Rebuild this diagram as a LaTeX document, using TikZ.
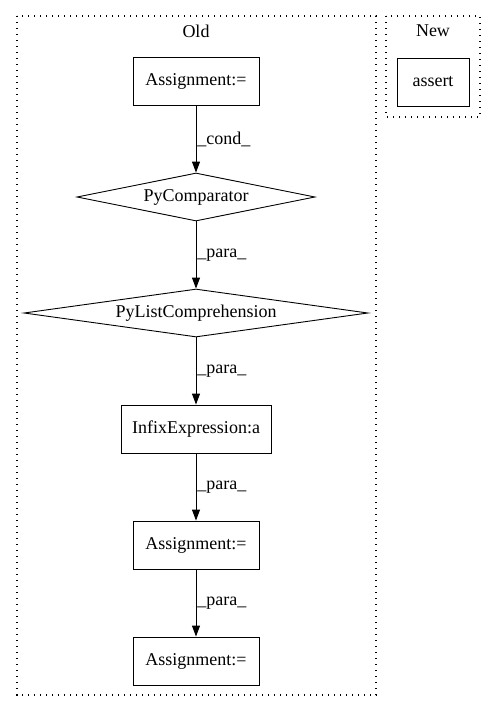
\documentclass[tikz,border=0pt]{standalone}
\usepackage{fontspec}
\setmainfont{Liberation Serif}
\usetikzlibrary{shapes.geometric,arrows.meta}
\begin{document}
\begin{tikzpicture}[x=1pt,y=-1pt,font=\fontsize{18}{20}\selectfont,
  cluster/.style={draw,line width=1.2pt,dash pattern=on 1.2pt off 4.8pt},
  box/.style={draw,line width=0.9pt,minimum width=126pt,minimum height=48pt,inner sep=0pt},
  cmp/.style={draw,diamond,aspect=7,line width=0.9pt,inner sep=0pt,minimum height=48pt},
  edge/.style={-{Triangle[length=11pt,width=8pt]},line width=0.9pt},
  lbl/.style={right,inner sep=1pt}]
\useasboundingbox (0,0) rectangle (496,712);

\draw[cluster] (17,16) rectangle (376,695);
\node (old) at (196,31) {Old};
\draw[cluster] (386,16) rectangle (480,117);
\node (new) at (433,31) {New};

\node[box,minimum width=72pt] (assert) at (433,82) {assert};

\node[box] (a1) at (196,81) {Assignment:=};
\node[cmp,minimum width=238pt] (cmp) at (196,197) {PyComparator};
\node[cmp,minimum width=344pt] (lc) at (196,313) {PyListComprehension};
\node[box,minimum width=150pt] (infix) at (196,429) {InfixExpression:a};
\node[box] (a2) at (196,545) {Assignment:=};
\node[box] (a3) at (196,661) {Assignment:=};

\draw[edge] (a1) -- node[lbl] {\_cond\_} (cmp);
\draw[edge] (cmp) -- node[lbl] {\_para\_} (lc);
\draw[edge] (lc) -- node[lbl] {\_para\_} (infix);
\draw[edge] (infix) -- node[lbl] {\_para\_} (a2);
\draw[edge] (a2) -- node[lbl] {\_para\_} (a3);

\end{tikzpicture}
\end{document}
